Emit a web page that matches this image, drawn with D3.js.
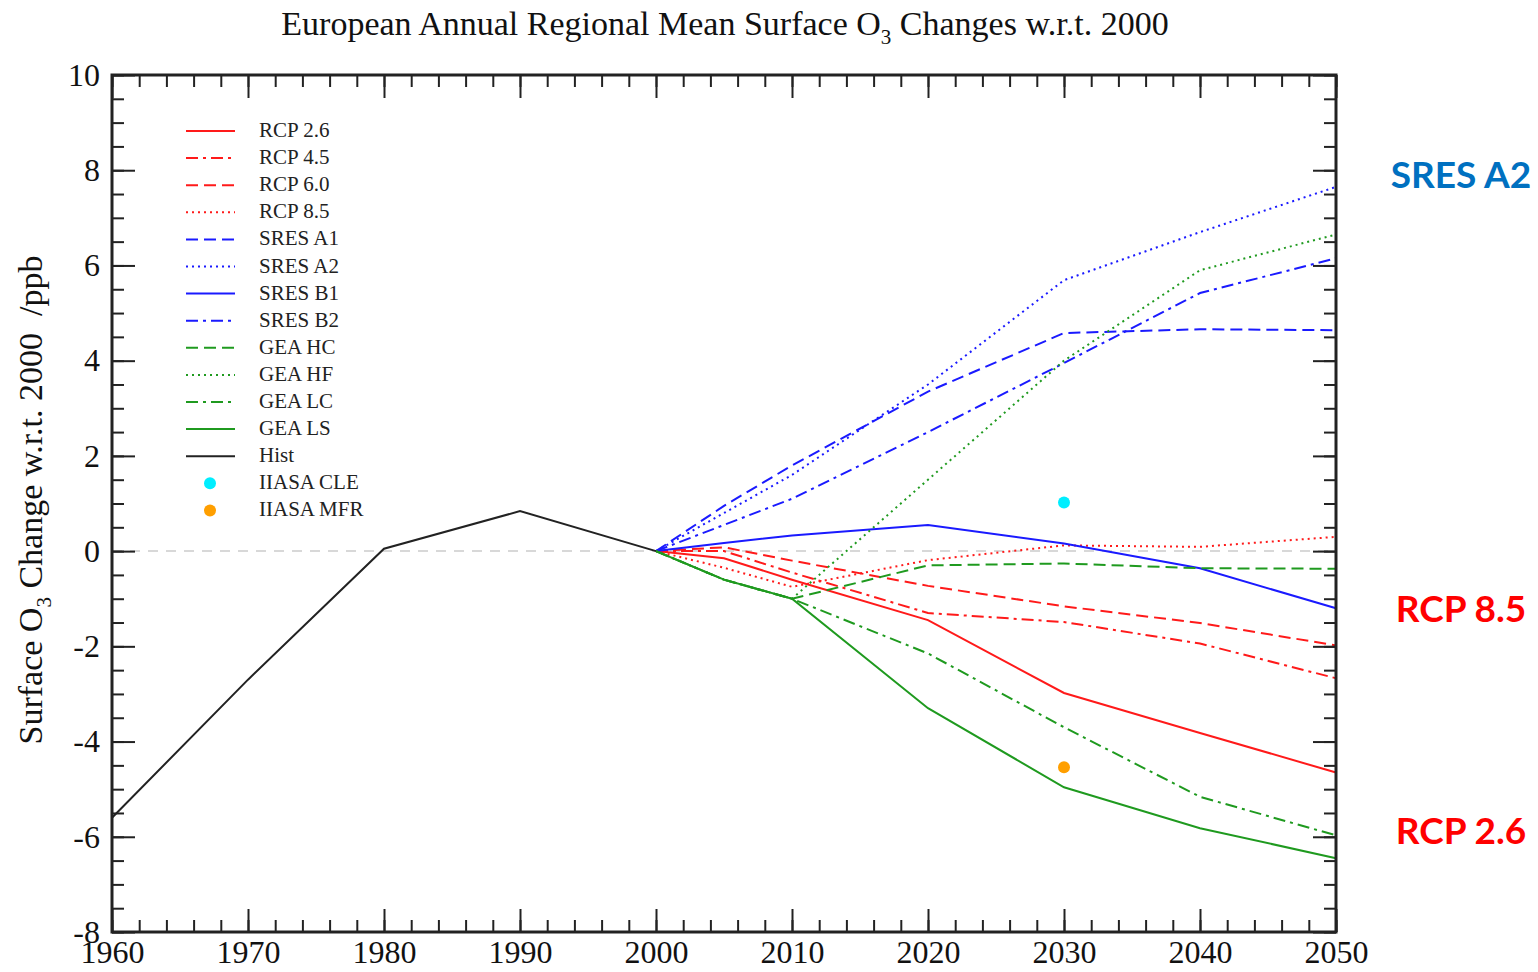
<!DOCTYPE html>
<html>
<head>
<meta charset="utf-8">
<script src="https://cdn.jsdelivr.net/npm/d3@7"></script>
<style>
  body { margin: 0; background: #fff; }
  svg { display: block; }
</style>
</head>
<body>
<div class="chart"></div>
<script>
// years
const histYears = [1960, 1970, 1980, 1990, 2000];
const projYears = [2000, 2005, 2010, 2020, 2030, 2040, 2050];

// values (ppb change w.r.t. 2000)
const hist = [-5.6, -2.7, 0.05, 0.84, 0];
const rcp26 = [0, -0.15, -0.6, -1.45, -2.98, -3.82, -4.65];
const rcp45 = [0, 0.0, -0.45, -1.3, -1.49, -1.94, -2.67];
const rcp60 = [0, 0.08, -0.2, -0.73, -1.16, -1.51, -1.98];
const rcp85 = [0, -0.35, -0.75, -0.19, 0.12, 0.09, 0.3];
const sresA1 = [0, 0.95, 1.8, 3.35, 4.58, 4.66, 4.64];
const sresA2 = [0, 0.8, 1.6, 3.5, 5.69, 6.7, 7.65];
const sresB1 = [0, 0.17, 0.33, 0.55, 0.16, -0.36, -1.2];
const sresB2 = [0, 0.55, 1.1, 2.5, 3.95, 5.42, 6.15];
const geaHC = [0, -0.6, -1.0, -0.3, -0.26, -0.36, -0.37];
const geaHF = [0, -0.6, -1.0, 1.5, 4.0, 5.9, 6.65];
const geaLC = [0, -0.6, -1.0, -2.15, -3.7, -5.16, -5.97];
const geaLS = [0, -0.6, -1.0, -3.3, -4.96, -5.82, -6.45];

// IIASA points (2030)
const iiasaYear = 2030;
const iiasaCLE = 1.02;
const iiasaMFR = -4.54;

const xTicks = [1960, 1970, 1980, 1990, 2000, 2010, 2020, 2030, 2040, 2050];
const yTicks = [-8, -6, -4, -2, 0, 2, 4, 6, 8, 10];

const w = 1538;
const h = 972;
const serif = "'Liberation Serif', 'DejaVu Serif', serif";

const red = "#ff1a1a";
const blue = "#1a1aff";
const green = "#1f9a1f";
const dashed = "12,6";
const dashdot = "12,5,3,5";
const dotted = "2,4";

const series = [
  { name: "RCP 2.6", years: projYears, values: rcp26, color: red, dash: null },
  { name: "RCP 4.5", years: projYears, values: rcp45, color: red, dash: dashdot },
  { name: "RCP 6.0", years: projYears, values: rcp60, color: red, dash: dashed },
  { name: "RCP 8.5", years: projYears, values: rcp85, color: red, dash: dotted },
  { name: "SRES A1", years: projYears, values: sresA1, color: blue, dash: dashed },
  { name: "SRES A2", years: projYears, values: sresA2, color: blue, dash: dotted },
  { name: "SRES B1", years: projYears, values: sresB1, color: blue, dash: null },
  { name: "SRES B2", years: projYears, values: sresB2, color: blue, dash: dashdot },
  { name: "GEA HC", years: projYears, values: geaHC, color: green, dash: dashed },
  { name: "GEA HF", years: projYears, values: geaHF, color: green, dash: dotted },
  { name: "GEA LC", years: projYears, values: geaLC, color: green, dash: dashdot },
  { name: "GEA LS", years: projYears, values: geaLS, color: green, dash: null },
  { name: "Hist", years: histYears, values: hist, color: "#222", dash: null }
];
const points = [
  { name: "IIASA CLE", year: iiasaYear, value: iiasaCLE, color: "#00eeff" },
  { name: "IIASA MFR", year: iiasaYear, value: iiasaMFR, color: "#ff9f00" }
];

const xScale = d3.scaleLinear().domain([1960, 2050]).range([112, 1336]);
const yScale = d3.scaleLinear().domain([-8, 10]).range([932, 75]);

const svg = d3.select(".chart").append("svg").attr("width", w).attr("height", h);

// zero line
svg.append("line")
  .attr("x1", xScale(1960)).attr("x2", xScale(2050))
  .attr("y1", yScale(0)).attr("y2", yScale(0))
  .attr("stroke", "#d8d8d8").attr("stroke-width", 2)
  .attr("stroke-dasharray", "10,8");

const line = d3.line()
  .x((d) => xScale(d[0]))
  .y((d) => yScale(d[1]));

svg.append("g").selectAll("path")
  .data(series)
  .enter()
  .append("path")
  .attr("d", (s) => line(s.years.map((yr, i) => [yr, s.values[i]])))
  .attr("fill", "none")
  .attr("stroke", (s) => s.color)
  .attr("stroke-width", 2)
  .attr("stroke-dasharray", (s) => s.dash);

svg.append("g").selectAll("circle")
  .data(points)
  .enter()
  .append("circle")
  .attr("cx", (d) => xScale(d.year))
  .attr("cy", (d) => yScale(d.value))
  .attr("r", 6)
  .attr("fill", (d) => d.color);

// axes, ticks pointing inward on all four sides
function styleAxis(g) {
  g.selectAll(".domain").remove();
  g.selectAll(".tick line").attr("stroke", "#222").attr("stroke-width", 2);
  g.selectAll("text")
    .attr("fill", "#111")
    .style("font-family", serif)
    .style("font-size", "32px");
}

const xMinor = d3.range(1960, 2051, 2);
const yMinor = d3.range(-8, 10.01, 0.5);
const plain = (d) => String(d);

svg.append("g").attr("transform", "translate(0,932)")
  .call(d3.axisBottom(xScale).tickValues(xMinor).tickSize(-12).tickFormat(""))
  .call(styleAxis);
svg.append("g").attr("transform", "translate(0,932)")
  .call(d3.axisBottom(xScale).tickValues(xTicks).tickSize(-23).tickPadding(7).tickFormat(plain))
  .call(styleAxis)
  .selectAll("text").attr("dy", "0.76em");

svg.append("g").attr("transform", "translate(0,75)")
  .call(d3.axisTop(xScale).tickValues(xMinor).tickSize(-12).tickFormat(""))
  .call(styleAxis);
svg.append("g").attr("transform", "translate(0,75)")
  .call(d3.axisTop(xScale).tickValues(xTicks).tickSize(-23).tickFormat(""))
  .call(styleAxis);

svg.append("g").attr("transform", "translate(112,0)")
  .call(d3.axisLeft(yScale).tickValues(yMinor).tickSize(-12).tickFormat(""))
  .call(styleAxis);
svg.append("g").attr("transform", "translate(112,0)")
  .call(d3.axisLeft(yScale).tickValues(yTicks).tickSize(-23).tickPadding(12).tickFormat(plain))
  .call(styleAxis);

svg.append("g").attr("transform", "translate(1336,0)")
  .call(d3.axisRight(yScale).tickValues(yMinor).tickSize(-12).tickFormat(""))
  .call(styleAxis);
svg.append("g").attr("transform", "translate(1336,0)")
  .call(d3.axisRight(yScale).tickValues(yTicks).tickSize(-23).tickFormat(""))
  .call(styleAxis);

// frame
svg.append("rect")
  .attr("x", 112).attr("y", 75)
  .attr("width", 1336 - 112).attr("height", 932 - 75)
  .attr("fill", "none").attr("stroke", "#222").attr("stroke-width", 3);

// title
const title = svg.append("text")
  .attr("x", 725).attr("y", 35)
  .attr("text-anchor", "middle")
  .style("font-family", serif)
  .style("font-size", "34px")
  .attr("fill", "#111");
title.append("tspan").text("European Annual Regional Mean Surface O");
title.append("tspan").attr("dy", 9).style("font-size", "21px").text("3");
title.append("tspan").attr("dy", -9).text(" Changes w.r.t. 2000");

// y label
const ylab = svg.append("text")
  .attr("transform", "translate(42,500) rotate(-90)")
  .attr("text-anchor", "middle")
  .style("font-family", serif)
  .style("font-size", "34px")
  .attr("fill", "#111");
ylab.append("tspan").text("Surface O");
ylab.append("tspan").attr("dy", 9).style("font-size", "21px").text("3");
ylab.append("tspan").attr("dy", -9).text(" Change w.r.t. 2000\u00a0\u00a0/ppb");

// legend
const legend = svg.append("g").attr("id", "legend");
const rowY = (i) => 131 + i * 27.1;
series.forEach((s, i) => {
  legend.append("line")
    .attr("x1", 186).attr("x2", 235)
    .attr("y1", rowY(i)).attr("y2", rowY(i))
    .attr("stroke", s.color).attr("stroke-width", 2)
    .attr("stroke-dasharray", s.dash);
});
points.forEach((p, i) => {
  legend.append("circle")
    .attr("cx", 210).attr("cy", rowY(series.length + i))
    .attr("r", 6).attr("fill", p.color);
});
legend.selectAll("text")
  .data(series.map((s) => s.name).concat(points.map((p) => p.name)))
  .enter()
  .append("text")
  .attr("x", 259)
  .attr("y", (d, i) => rowY(i) + 6)
  .style("font-family", serif)
  .style("font-size", "21px")
  .attr("fill", "#222")
  .text((d) => d);

// right-hand annotations
const notes = [
  { text: "SRES A2", y: 188, color: "#0070c0" },
  { text: "RCP 8.5", y: 622, color: "#ff0000" },
  { text: "RCP 2.6", y: 844, color: "#ff0000" }
];
svg.append("g").selectAll("text")
  .data(notes)
  .enter()
  .append("text")
  .attr("x", 1461)
  .attr("y", (d) => d.y)
  .attr("text-anchor", "middle")
  .style("font-family", "Lato, 'Open Sans', sans-serif")
  .style("font-weight", "bold")
  .style("font-size", "37px")
  .attr("fill", (d) => d.color)
  .text((d) => d.text);
</script>
</body>
</html>
